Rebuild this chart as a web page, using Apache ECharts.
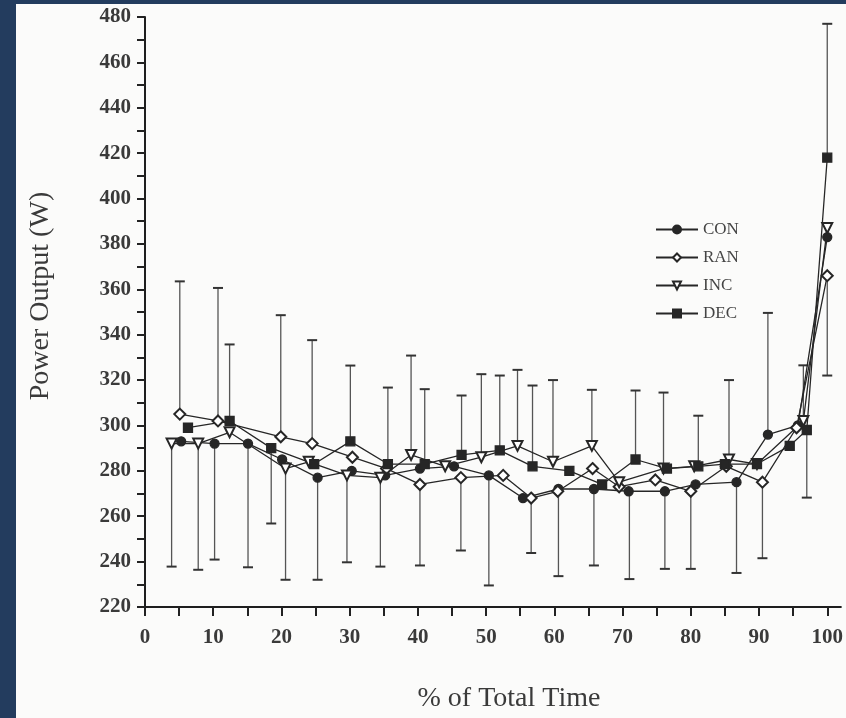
<!DOCTYPE html>
<html>
<head>
<meta charset="utf-8">
<script src="https://cdn.jsdelivr.net/npm/echarts@6/dist/echarts.min.js"></script>
<style>
  html, body { margin: 0; padding: 0; background: #233c5e; }
  #main { width: 846px; height: 718px; }
</style>
</head>
<body>
<div id="main"></div>
<script>
// values
var conX = [5.3, 10.2, 15.1, 20.1, 25.3, 30.3, 35.2, 40.3, 45.3, 50.4, 55.4, 60.6, 65.8, 70.9, 76.2, 80.7, 86.7, 91.3, 95.7, 100];
var conY = [293, 292, 292, 285, 277, 280, 278, 281, 282, 278, 268, 272, 272, 271, 271, 274, 275, 296, 300, 383];

var ranX = [5.1, 10.7, 19.9, 24.5, 30.4, 35.4, 40.3, 46.3, 52.5, 56.6, 60.5, 65.6, 69.5, 74.8, 80, 85.2, 90.5, 95.5, 100];
var ranY = [305, 302, 295, 292, 286, 281, 274, 277, 278, 268, 271, 281, 273, 276, 271, 282, 275, 299, 366];

var incX = [3.9, 7.8, 12.4, 20.6, 24, 29.6, 34.5, 39, 44, 49.3, 54.6, 59.8, 65.5, 69.5, 76, 80.5, 85.6, 89.7, 96.5, 100];
var incY = [292, 292, 297, 281, 284, 278, 277, 287, 282, 286, 291, 284, 291, 275, 281, 282, 285, 283, 302, 387];

var decX = [6.3, 12.4, 18.5, 24.8, 30.1, 35.6, 41, 46.4, 52, 56.8, 62.2, 67, 71.9, 76.5, 81.1, 85, 89.7, 94.5, 97, 100];
var decY = [299, 302, 290, 283, 293, 283, 283, 287, 289, 282, 280, 274, 285, 281, 282, 283, 283, 291, 298, 418];

// error bars: x, start (mean), end (mean +/- SD)
var errX    = [5.1, 10.7, 12.4, 19.9, 24.5, 30.1, 35.6, 39, 41, 46.4, 49.3, 52, 54.6, 56.8, 59.8, 65.5, 71.9, 76, 81.1, 85.6, 91.3, 96.5, 100,
               3.9, 7.8, 10.2, 15.1, 18.5, 20.6, 25.3, 29.6, 34.5, 40.3, 46.3, 50.4, 56.6, 60.6, 65.8, 71, 76.2, 80, 86.7, 90.5, 97, 100];
var errFrom = [305, 302, 302, 295, 292, 293, 283, 287, 283, 287, 286, 289, 291, 282, 284, 291, 285, 281, 282, 285, 296, 302, 418,
               292, 292, 292, 292, 290, 281, 277, 278, 277, 274, 277, 278, 268, 272, 272, 271, 271, 271, 275, 275, 298, 366];
var errTo   = [363.5, 360.6, 335.7, 348.6, 337.6, 326.4, 316.7, 330.8, 316, 313.2, 322.6, 322, 324.5, 317.6, 320, 315.7, 315.4, 314.5, 304.3, 320, 349.6, 326.5, 477,
               237.8, 236.4, 240.9, 237.5, 256.8, 232, 232, 239.7, 237.8, 238.3, 244.9, 229.5, 243.8, 233.6, 238.3, 232.3, 236.8, 236.8, 235, 241.5, 268.2, 322];

var xLabelValues = [0, 10, 20, 30, 40, 50, 60, 70, 80, 90, 100];
var xTickValues = [0, 5, 10, 15, 20, 25, 30, 35, 40, 45, 50, 55, 60, 65, 70, 75, 80, 85, 90, 95, 100];
var yTickValues = [220, 230, 240, 250, 260, 270, 280, 290, 300, 310, 320, 330, 340, 350, 360, 370, 380, 390, 400, 410, 420, 430, 440, 450, 460, 470, 480];

function pairs(xs, ys) {
  return xs.map(function (x, i) { return [x, ys[i]]; });
}

var errData = errX.map(function (x, i) { return [x, errFrom[i], errTo[i]]; });

var ink = '#262626';
var serif = '"Liberation Serif", "DejaVu Serif", serif';

function lineSeries(name, xs, ys, symbol, rotate, size) {
  return {
    name: name,
    type: 'line',
    data: pairs(xs, ys),
    symbol: symbol,
    symbolRotate: rotate,
    symbolSize: size,
    showAllSymbol: true,
    z: 3,
    lineStyle: { color: ink, width: 1.3 },
    itemStyle: { color: ink, borderColor: ink, borderWidth: 1.3 }
  };
}

var mychart = echarts.init(document.getElementById('main'));

var option = {
  animation: false,
  backgroundColor: '#fbfbfa',
  graphic: [
    { type: 'rect', left: 0, top: 0, shape: { width: 16, height: 718 }, style: { fill: '#233c5e' } },
    { type: 'rect', left: 0, top: 0, shape: { width: 846, height: 4 }, style: { fill: '#233c5e' } }
  ],
  grid: { left: 145, top: 17, width: 700, height: 593 },
  legend: {
    data: ['CON', 'RAN', 'INC', 'DEC'],
    orient: 'vertical',
    left: 650,
    top: 216,
    itemWidth: 42,
    itemHeight: 10,
    itemGap: 11,
    textStyle: { fontFamily: serif, fontSize: 17, color: '#444', lineHeight: 16 }
  },
  xAxis: {
    type: 'value',
    min: 0,
    max: 102,
    name: '% of Total Time',
    nameLocation: 'middle',
    nameGap: 78,
    nameTextStyle: { fontFamily: serif, fontSize: 28, color: '#3a3a3a', padding: [0, 0, 0, 32] },
    splitLine: { show: false },
    axisLine: { lineStyle: { color: '#1e1e1e', width: 2 } },
    axisTick: { customValues: xTickValues, length: 9, lineStyle: { color: '#222', width: 2 } },
    axisLabel: {
      customValues: xLabelValues,
      margin: 20,
      fontFamily: serif,
      fontWeight: 'bold',
      fontSize: 21,
      color: '#3a3a3a'
    }
  },
  yAxis: {
    type: 'value',
    min: 220,
    max: 480,
    interval: 20,
    name: 'Power Output (W)',
    nameLocation: 'middle',
    nameRotate: 90,
    nameGap: 90,
    nameTextStyle: { fontFamily: serif, fontSize: 28, color: '#3a3a3a', padding: [0, 0, 0, 32] },
    splitLine: { show: false },
    axisLine: { show: true, lineStyle: { color: '#1e1e1e', width: 2 } },
    axisTick: { customValues: yTickValues, length: 8, lineStyle: { color: '#222', width: 2 } },
    axisLabel: {
      margin: 14,
      fontFamily: serif,
      fontWeight: 'bold',
      fontSize: 21,
      color: '#3a3a3a'
    }
  },
  series: [
    {
      name: 'SD',
      type: 'custom',
      data: errData,
      encode: { x: 0, y: [1, 2] },
      z: 2,
      renderItem: function (params, api) {
        var x = api.value(0);
        var p0 = api.coord([x, api.value(1)]);
        var p1 = api.coord([x, api.value(2)]);
        return {
          type: 'group',
          children: [
            { type: 'line', shape: { x1: p0[0], y1: p0[1], x2: p1[0], y2: p1[1] }, style: { stroke: '#555', lineWidth: 1.3 } },
            { type: 'line', shape: { x1: p1[0] - 5, y1: p1[1], x2: p1[0] + 5, y2: p1[1] }, style: { stroke: '#333', lineWidth: 2 } }
          ]
        };
      }
    },
    lineSeries('CON', conX, conY, 'circle', 0, 9),
    lineSeries('RAN', ranX, ranY, 'emptyDiamond', 0, 11),
    lineSeries('INC', incX, incY, 'emptyTriangle', 180, 10),
    lineSeries('DEC', decX, decY, 'rect', 0, 9)
  ]
};

mychart.setOption(option);
</script>
</body>
</html>
